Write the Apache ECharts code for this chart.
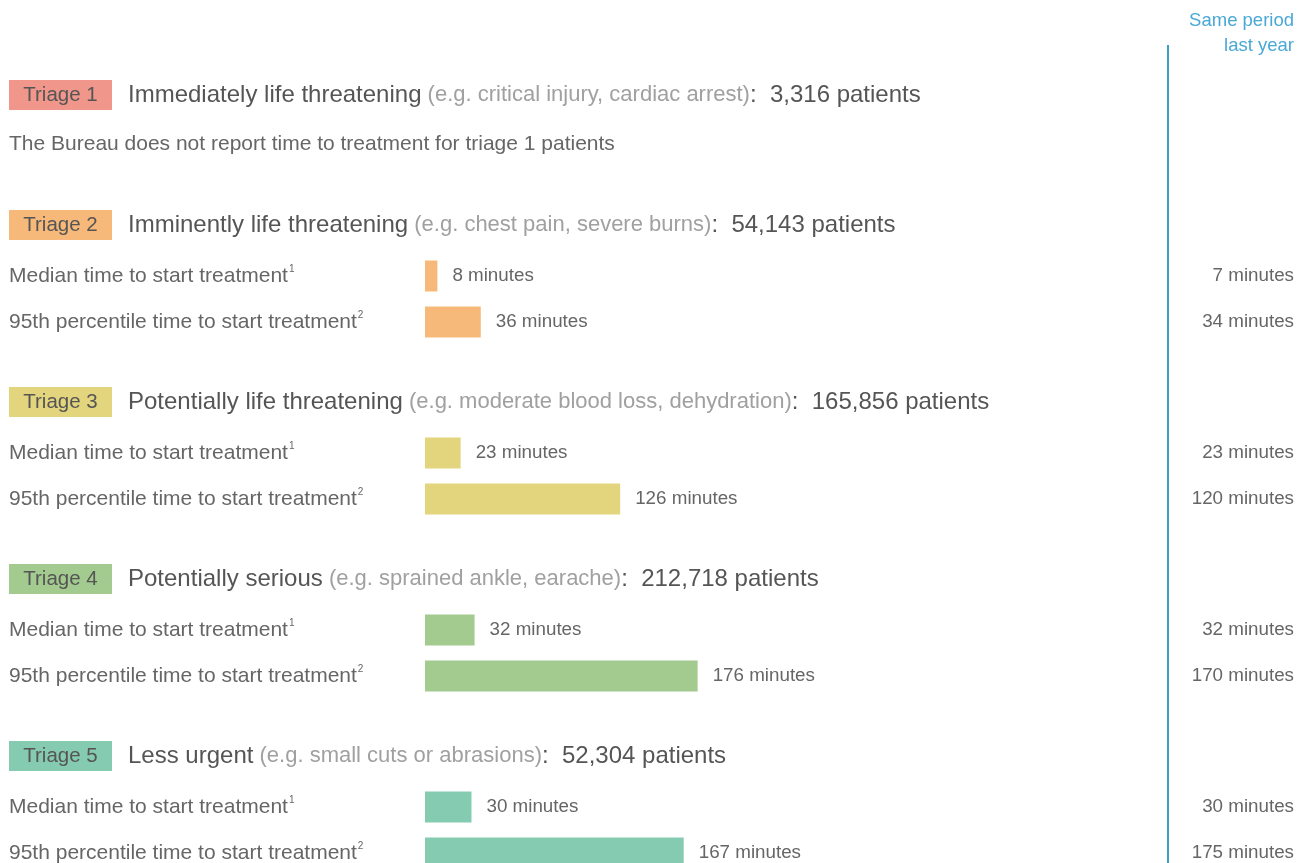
<!DOCTYPE html>
<html>
<head>
<meta charset="utf-8">
<script src="https://cdn.jsdelivr.net/npm/echarts@6/dist/echarts.min.js"></script>
<style>
  html, body { margin: 0; padding: 0; background: #fff; }
  #chart { width: 1298px; height: 863px; }
</style>
</head>
<body>
<div id="chart"></div>
<script>
// data
const triageNames = ['Triage 1', 'Triage 2', 'Triage 3', 'Triage 4', 'Triage 5'];
const descriptions = ['Immediately life threatening', 'Imminently life threatening', 'Potentially life threatening', 'Potentially serious', 'Less urgent'];
const examples = ['(e.g. critical injury, cardiac arrest)', '(e.g. chest pain, severe burns)', '(e.g. moderate blood loss, dehydration)', '(e.g. sprained ankle, earache)', '(e.g. small cuts or abrasions)'];
const patients = [3316, 54143, 165856, 212718, 52304];
const medianMinutes = [null, 8, 23, 32, 30];
const p95Minutes = [null, 36, 126, 176, 167];
const lastYearMedian = [null, 7, 23, 32, 30];
const lastYearP95 = [null, 34, 120, 170, 175];
const rowLabels = ['Median time to start treatment', '95th percentile time to start treatment'];
const rowNotes = ['1', '2'];
const triage1Note = 'The Bureau does not report time to treatment for triage 1 patients';

const colors = ['#f0968a', '#f7b97a', '#e3d57d', '#a3ca8f', '#85cbb1'];
const font = "'Liberation Sans', Arial, sans-serif";
const dark = '#555';
const mid = '#666';
const light = '#a0a0a0';
const blue = '#3e9fcb';

const chart = echarts.init(document.getElementById('chart'));

const H = 863, firstTop = 253, step = 177, rowH = 92;

const grids = [], xAxes = [], yAxes = [], series = [], graphics = [];

// header rows
function header(i, y) {
  return {
    type: 'text', left: 9, top: y, z: 10,
    style: {
      text: '{tag|' + triageNames[i] + '}{gap|}{d|' + descriptions[i] + '}{e| ' + examples[i] + '}{d|:  ' + patients[i].toLocaleString('en-US') + ' patients}',
      rich: {
        tag: { backgroundColor: colors[i], width: 103, height: 30, align: 'center', fontSize: 20.5, fill: dark, fontFamily: font, lineHeight: 30 },
        gap: { width: 16 },
        d: { fontSize: 24, fill: dark, fontFamily: font },
        e: { fontSize: 22, fill: light, fontFamily: font }
      }
    }
  };
}

graphics.push(header(0, 80));
graphics.push({
  type: 'text', left: 9, top: 134,
  style: { text: triage1Note, fontSize: 21, fill: mid, fontFamily: font }
});

for (let g = 1; g < 5; g++) {
  const k = g - 1;
  const top = firstTop + k * step;
  graphics.push(header(g, top - 43));
  grids.push({ left: 425, right: 4, top: top, height: rowH, outerBoundsMode: 'none' });
  xAxes.push({ type: 'value', gridIndex: k, min: 0, max: 561, show: false });
  yAxes.push({
    type: 'category', gridIndex: k, inverse: true, data: rowLabels,
    axisLine: { show: false }, axisTick: { show: false },
    axisLabel: {
      align: 'left', margin: 416,
      formatter: (v, idx) => '{t|' + v + '}{s|' + rowNotes[idx] + '}',
      rich: {
        t: { fontSize: 21, color: mid, fontFamily: font, lineHeight: 24 },
        s: { fontSize: 10, color: mid, fontFamily: font, verticalAlign: 'top', lineHeight: 24, padding: [0, 0, 9, 1] }
      }
    }
  });
  yAxes.push({
    type: 'category', gridIndex: k, inverse: true, position: 'right',
    data: [lastYearMedian[g], lastYearP95[g]],
    axisLine: { show: false }, axisTick: { show: false },
    axisLabel: {
      inside: true, margin: 0, fontSize: 18.8, color: mid, fontFamily: font,
      formatter: v => v + ' minutes'
    }
  });
  series.push({
    type: 'bar', xAxisIndex: k, yAxisIndex: k * 2,
    data: [medianMinutes[g], p95Minutes[g]],
    barWidth: 31, silent: true,
    itemStyle: { color: colors[g] },
    label: {
      show: true, position: 'right', distance: 15,
      fontSize: 18.8, color: mid, fontFamily: font,
      formatter: p => p.value + ' minutes'
    }
  });
}

// "same period last year" column
graphics.push({
  type: 'text', x: 1294, y: 8,
  style: { text: 'Same period\nlast year', align: 'right', fontSize: 18.5, lineHeight: 25, fill: '#4aa8d6', fontFamily: font }
});
graphics.push({
  type: 'line', shape: { x1: 1168, y1: 45, x2: 1168, y2: H },
  style: { stroke: blue, lineWidth: 2 }
});

chart.setOption({
  animation: false,
  grid: grids,
  xAxis: xAxes,
  yAxis: yAxes,
  series: series,
  graphic: graphics
});
</script>
</body>
</html>
